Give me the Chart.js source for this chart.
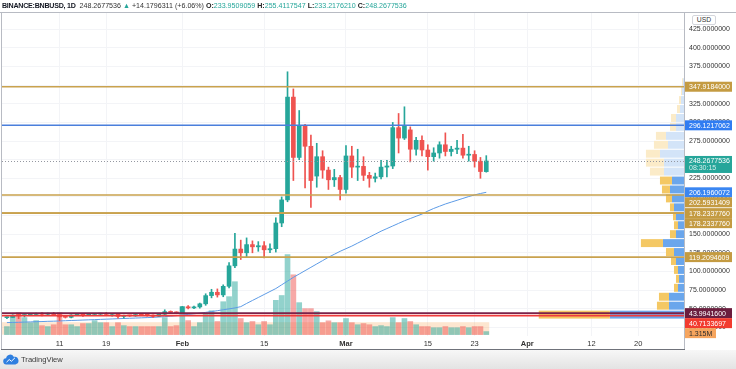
<!DOCTYPE html>
<html>
<head>
<meta charset="utf-8">
<script src="https://cdn.jsdelivr.net/npm/chart.js@4.4.1/dist/chart.umd.min.js"></script>
<style>
  html, body { margin: 0; padding: 0; background: #fff; }
  #wrap { position: relative; width: 736px; height: 369px; overflow: hidden; font-family: 'Liberation Sans', Arial, sans-serif; }
  #footer { position: absolute; left: 0; top: 350px; width: 736px; height: 19px; background: linear-gradient(#f7f7f7, #e3e3e3); }
  #chart { position: absolute; left: 0; top: 0; }
  #legend { position: absolute; left: 2px; top: 0px; font-size: 7.1px; line-height: 12px; white-space: nowrap; color: #333; }
  #legend .up { color: #26a69a; }
  #legend b { font-weight: bold; color: #222; }
  #legend .sym { font-weight: bold; color: #131722; letter-spacing: -0.25px; }
  #usd { position: absolute; left: 692px; top: 15px; width: 22px; height: 8px; border: 1px solid #d4d6dc; border-radius: 2px; font-size: 6.8px; line-height: 8px; text-align: center; color: #333; background: #fff; }
  #logo { position: absolute; left: 3px; top: 352px; height: 14px; display: flex; align-items: center; }
  #logo span { font-size: 7.6px; color: #3a3a3a; margin-left: 2px; }
</style>
</head>
<body>
<div id="wrap">
  <div id="footer"></div>
  <canvas id="chart" width="736" height="369"></canvas>
  <div id="legend"><span class="sym">BINANCE:BNBUSD, 1D</span>&nbsp; 248.2677536 <span class="up">&#9650;</span> +14.1796311 (+6.06%) <b>O:</b><span class="up">233.9509059</span> <b>H:</b><span class="up">255.4117547</span> <b>L:</b><span class="up">233.2176210</span> <b>C:</b><span class="up">248.2677536</span></div>
  <div id="usd">USD</div>
  <div id="logo">
    <svg width="16" height="11" viewBox="0 0 36 24"><path d="M8 23a7 7 0 0 1-1-14a9 9 0 0 1 17-3a8 8 0 0 1 4 17z" fill="#2f7fe0"/><polyline points="8,18 14,12 19,16 27,8" fill="none" stroke="#fff" stroke-width="2.2"/></svg>
    <span>TradingView</span>
  </div>
</div>
<script>
// daily candles, day index counted from Jan 1 2021 (first candle = Jan 2)
const firstDay = 1;
const opens = [
  37.9, 38.2, 41.3, 40.8, 41.8, 42.2, 43.4, 42.5, 43.8, 42.0,
  38.9, 38.4, 41.5, 42.8, 41.9, 42.3, 42.6, 43.3, 42.4, 42.9,
  39.6, 40.7, 40.3, 42.0, 41.5, 41.3, 39.7, 42.5, 46.0, 45.0,
  44.3, 52.5, 51.0, 52.3, 56.5, 67.5, 72.0, 68.5, 80.0, 107.5,
  130.0, 125.0, 136.0, 133.0, 134.5, 129.0, 130.5, 165.0, 196.0, 334.0,
  253.0, 296.0, 268.0, 228.0, 254.0, 236.0, 223.0, 226.0, 210.0, 255.0,
  240.0, 241.0, 229.0, 225.0, 227.0, 240.0, 241.5, 293.0, 279.0, 290.0,
  264.0, 276.0, 263.0, 254.0, 259.0, 270.0, 261.0, 264.0, 265.5, 256.0,
  257.0, 248.0, 233.9509059
];
const highs = [
  38.9, 41.9, 42.2, 42.3, 43.0, 44.2, 44.6, 44.0, 44.9, 42.2,
  40.6, 41.9, 43.3, 43.6, 43.4, 43.4, 43.9, 44.7, 43.2, 43.1,
  41.5, 41.3, 42.6, 43.7, 42.4, 41.6, 43.8, 48.5, 47.0, 45.8,
  53.0, 54.0, 53.5, 57.5, 70.0, 76.0, 76.5, 82.0, 112.0, 151.0,
  142.0, 145.0, 141.0, 140.0, 140.0, 137.0, 172.0, 200.0, 368.0, 345.0,
  316.0, 297.5, 283.0, 272.0, 262.0, 240.0, 237.0, 229.0, 269.0, 268.0,
  264.0, 254.0, 233.0, 232.0, 249.0, 249.0, 300.0, 312.0, 321.0, 294.0,
  280.0, 282.0, 270.0, 266.0, 274.0, 286.0, 268.0, 276.0, 284.0, 268.0,
  262.0, 253.0, 255.4117547
];
const lows = [
  36.6, 37.9, 36.5, 38.9, 40.8, 41.2, 40.3, 41.7, 40.6, 33.9,
  37.4, 37.6, 40.7, 39.6, 41.2, 40.7, 41.6, 42.0, 39.8, 37.3,
  37.4, 39.6, 39.7, 41.2, 39.9, 38.3, 39.1, 41.5, 43.5, 43.2,
  43.5, 49.5, 50.0, 50.8, 54.5, 64.5, 65.5, 66.0, 78.0, 105.0,
  116.0, 119.0, 125.0, 127.0, 118.0, 125.0, 126.0, 160.0, 193.5, 222.0,
  250.0, 212.0, 186.0, 213.0, 225.0, 210.0, 214.0, 196.0, 205.0, 226.0,
  222.0, 222.0, 213.0, 220.0, 224.0, 227.0, 238.0, 259.0, 277.0, 247.0,
  256.0, 255.0, 236.0, 248.0, 252.0, 255.0, 255.0, 258.0, 252.0, 248.0,
  240.0, 225.0, 233.217621
];
const closes = [
  38.2, 41.3, 40.8, 41.8, 42.2, 43.4, 42.5, 43.8, 42.0, 38.9,
  38.4, 41.5, 42.8, 41.9, 42.3, 42.6, 43.3, 42.4, 42.9, 39.6,
  40.7, 40.3, 42.0, 41.5, 41.3, 39.7, 42.5, 46.0, 45.0, 44.3,
  52.5, 51.0, 52.3, 56.5, 67.5, 72.0, 68.5, 80.0, 107.5, 130.0,
  125.0, 136.0, 133.0, 134.5, 129.0, 130.5, 165.0, 196.0, 334.0, 253.0,
  296.0, 268.0, 222.0, 254.0, 236.0, 223.0, 226.0, 210.0, 255.0, 240.0,
  241.0, 229.0, 225.0, 227.0, 240.0, 241.5, 293.0, 279.0, 296.0, 264.0,
  276.0, 263.0, 254.0, 259.0, 270.0, 261.0, 264.0, 265.5, 256.0, 257.0,
  248.0, 234.0881225, 248.2677536
];
// volume, millions
const volumes = [
  3.5, 8.3, 9.6, 7.4, 5.2, 6.1, 3.9, 3.5, 4.3, 9.6,
  4.3, 4.3, 3.5, 4.8, 4.8, 6.1, 5.2, 5.2, 3.5, 5.2,
  3.9, 3.5, 3.5, 3.5, 3.5, 3.5, 3.5, 7.4, 3.5, 3.9,
  12.2, 6.1, 3.5, 5.2, 9.1, 10.4, 5.7, 14.3, 16.5, 23.0,
  7.0, 5.2, 5.7, 4.3, 5.7, 4.3, 14.9, 17.0, 34.8, 26.0,
  13.9, 11.3, 11.3, 10.0, 5.2, 6.0, 5.2, 5.2, 7.0, 5.2,
  4.3, 4.8, 4.3, 3.5, 3.9, 3.5, 7.4, 5.2, 7.0, 5.7,
  4.3, 3.5, 3.5, 3.0, 3.0, 3.5, 3.0, 3.0, 3.5, 3.0,
  3.5, 3.5, 1.315
];
// moving average
const movingAvg = [
  31.3, 31.5, 31.7, 32.0, 32.2, 32.5, 32.7, 33.0, 33.2, 33.5,
  33.8, 34.1, 34.4, 34.7, 35.0, 35.3, 35.6, 35.9, 36.2, 36.5,
  36.8, 37.1, 37.4, 37.7, 38.0, 38.3, 38.8, 39.3, 39.9, 40.6,
  41.5, 42.3, 43.1, 44.0, 45.0, 46.1, 47.3, 48.5, 49.7, 51.0,
  52.7, 57.0, 61.0, 65.0, 69.0, 73.0, 77.0, 82.0, 87.0, 92.0,
  96.5, 101.0, 105.5, 110.0, 114.5, 119.0, 123.0, 127.0, 130.5, 134.0,
  138.0, 142.0, 146.0, 150.0, 154.0, 157.5, 161.0, 164.5, 168.0, 171.0,
  174.0, 177.0, 181.0, 184.5, 187.5, 190.5, 193.0, 195.5, 198.0, 200.5,
  202.7, 204.6, 206.1960072
];
const volumeBandLevel = 5.4;

// visible range volume profile (rows of 12 price units)
const profileStep = 12;
const profilePrices = [36, 48, 60, 72, 84, 96, 108, 120, 132, 144, 156, 168, 180, 192, 204, 216, 228, 240, 252, 264, 276, 288, 300, 312, 324, 336, 348];
const profileDown = [71, 12, 10, 4, 3, 4, 5, 8, 22, 6, 4, 3, 4, 6, 8, 12, 14, 18, 14, 14, 10, 6, 5, 3, 2, 1, 1];
const profileUp = [74, 15, 15, 6, 5, 6, 8, 10, 21, 8, 6, 8, 10, 12, 14, 12, 20, 20, 24, 16, 18, 8, 8, 4, 3, 2, 1];
const valueArea = [36, 228];

// horizontal levels
const levelPrices = [347.9184, 296.1217062, 202.5931409, 178.233776, 178.233776, 119.2094609, 43.99416, 40.7133697];
const lastPrice = 248.2677536;
const countdown = '08:30:15';

// axes
const priceTicks = [25, 50, 75, 100, 125, 150, 175, 200, 225, 250, 275, 300, 325, 350, 375, 400, 425];
const tickDays = [10, 18, 31, 45, 59, 73, 81, 90, 101, 109];
const tickLabels = ['11', '19', 'Feb', '15', 'Mar', '15', '23', 'Apr', '12', '20'];
const monthLabels = ['Feb', 'Mar', 'Apr'];

// styles
const UP = '#26a69a', DOWN = '#ef5350';
const GOLD_LINE = '#c9a24e', GOLD_TAG = '#c49b42';
const levelLine = [GOLD_LINE, '#4a7fdc', GOLD_LINE, GOLD_LINE, GOLD_LINE, GOLD_LINE, '#7a2149', '#ef3b3b'];
const levelTag = [GOLD_TAG, '#2f7cf2', GOLD_TAG, GOLD_TAG, GOLD_TAG, GOLD_TAG, '#6b1d3e', '#f23b2f'];
const FONT = "'Liberation Sans', Arial, sans-serif";

const dayIndex = opens.map((_, i) => firstDay + i);
const isUp = opens.map((o, i) => closes[i] >= o);
const candleColors = isUp.map(u => u ? UP : DOWN);
const volColors = isUp.map(u => u ? 'rgba(38,166,154,0.5)' : 'rgba(239,83,80,0.5)');

const overlay = {
    id: 'overlay',
    beforeDatasetsDraw(chart) {
        const { ctx, chartArea: a, scales: { x, y, yVol } } = chart;
        ctx.save();
        ctx.beginPath();
        ctx.rect(a.left, a.top, a.right - a.left, a.bottom - a.top);
        ctx.clip();

        // shaded volume band
        const bandRight = x.getPixelForValue(dayIndex[dayIndex.length - 1] + 0.5);
        const bandTop = yVol.getPixelForValue(volumeBandLevel);
        const bandBottom = yVol.getPixelForValue(0);
        ctx.fillStyle = 'rgba(245,150,60,0.24)';
        ctx.fillRect(a.left, bandTop, bandRight - a.left, bandBottom - bandTop);

        // volume profile, anchored to the price axis
        const totals = profileUp.map((u, i) => u + profileDown[i]);
        const maxTotal = Math.max(...totals);
        const fullWidth = (a.right - a.left) * 0.213;
        profilePrices.forEach((lo, i) => {
            const top = y.getPixelForValue(lo + profileStep) + 0.5;
            const bottom = y.getPixelForValue(lo) - 0.5;
            const wUp = profileUp[i] / maxTotal * fullWidth;
            const wDown = profileDown[i] / maxTotal * fullWidth;
            const inside = lo >= valueArea[0] && lo < valueArea[1];
            ctx.fillStyle = inside ? '#6aa6ec' : '#d3e4f8';
            ctx.fillRect(a.right - wUp, top, wUp, bottom - top);
            ctx.fillStyle = inside ? '#f4c864' : '#fbebc8';
            ctx.fillRect(a.right - wUp - wDown, top, wDown, bottom - top);
        });
        ctx.restore();
    },
    afterDatasetsDraw(chart) {
        const { ctx, chartArea: a, scales: { y } } = chart;
        ctx.save();
        // last price dotted line
        const py = Math.round(y.getPixelForValue(lastPrice)) + 0.5;
        ctx.strokeStyle = '#9598a1';
        ctx.lineWidth = 1;
        ctx.setLineDash([1, 2]);
        ctx.beginPath();
        ctx.moveTo(a.left, py);
        ctx.lineTo(a.right, py);
        ctx.stroke();
        ctx.setLineDash([]);

        // horizontal levels
        levelPrices.forEach((p, i) => {
            const ly = y.getPixelForValue(p);
            ctx.strokeStyle = levelLine[i];
            ctx.lineWidth = 1.6;
            ctx.beginPath();
            ctx.moveTo(a.left, ly);
            ctx.lineTo(a.right, ly);
            ctx.stroke();
        });
        ctx.restore();
    },
    afterDraw(chart) {
        const { ctx, chartArea: a, scales: { y, yVol } } = chart;
        ctx.save();

        // frame
        ctx.strokeStyle = '#b8bbc3';
        ctx.lineWidth = 1;
        ctx.beginPath();
        ctx.moveTo(0, a.top - 0.5); ctx.lineTo(736, a.top - 0.5);
        ctx.moveTo(a.left - 0.5, a.top); ctx.lineTo(a.left - 0.5, 350);
        ctx.moveTo(a.right + 0.5, a.top); ctx.lineTo(a.right + 0.5, 350);
        ctx.stroke();
        ctx.strokeStyle = '#6f727a';
        ctx.beginPath();
        ctx.moveTo(a.left - 1, 349.5); ctx.lineTo(a.right + 1, 349.5);
        ctx.stroke();

        // tags on the price axis, stacked so they never overlap
        const tags = levelPrices.map((p, i) => ({
            c: y.getPixelForValue(p), h: 10, bg: levelTag[i], fg: '#fff', text: [p.toFixed(7)], w: 47
        }));
        tags.push({ c: y.getPixelForValue(movingAvg[movingAvg.length - 1]), h: 10, bg: '#3a86f2', fg: '#fff',
            text: [movingAvg[movingAvg.length - 1].toFixed(7)], w: 47 });
        tags.push({ c: y.getPixelForValue(lastPrice), h: 17, bg: '#26a69a', fg: '#fff',
            text: [lastPrice.toFixed(7), countdown], w: 47 });
        const lastVol = volumes[volumes.length - 1];
        tags.push({ c: yVol.getPixelForValue(lastVol), h: 10, bg: '#f6a55e', fg: '#2b2b2b',
            text: [lastVol.toFixed(3) + 'M'], w: 31 });
        tags.forEach(t => { t.top = t.c - 5; });
        tags.sort((p, q) => p.top - q.top);
        let prevBottom = -Infinity;
        tags.forEach(t => {
            if (t.top < prevBottom) t.top = prevBottom;
            prevBottom = t.top + t.h;
            const left = a.right + 1;
            ctx.fillStyle = t.bg;
            ctx.fillRect(left, t.top, t.w, t.h);
            ctx.fillStyle = t.fg;
            ctx.font = '7px ' + FONT;
            ctx.textBaseline = 'middle';
            ctx.textAlign = 'left';
            ctx.fillText(t.text[0], left + 4, t.top + 5.5);
            if (t.text[1]) {
                ctx.fillStyle = 'rgba(255,255,255,0.8)';
                ctx.fillText(t.text[1], left + 4, t.top + 12.5);
            }
        });
        ctx.restore();
    }
};

const ctx = document.getElementById('chart').getContext('2d');
Chart.defaults.font.family = FONT;
new Chart(ctx, {
    type: 'bar',
    data: {
        datasets: [
            {
                type: 'bar', label: 'bodies', yAxisID: 'y', order: 1, grouped: false,
                data: dayIndex.map((d, i) => ({ x: d, y: [opens[i], closes[i]] })),
                backgroundColor: candleColors, barThickness: 4, minBarLength: 1, borderWidth: 0
            },
            {
                type: 'bar', label: 'wicks', yAxisID: 'y', order: 2, grouped: false,
                data: dayIndex.map((d, i) => ({ x: d, y: [lows[i], highs[i]] })),
                backgroundColor: candleColors, barThickness: 1, borderWidth: 0
            },
            {
                type: 'line', label: 'MA', yAxisID: 'y', order: 3,
                data: dayIndex.map((d, i) => ({ x: d, y: movingAvg[i] })),
                borderColor: '#5d9be6', borderWidth: 1, pointRadius: 0, tension: 0
            },
            {
                type: 'bar', label: 'volume', yAxisID: 'yVol', order: 5, grouped: false,
                data: dayIndex.map((d, i) => ({ x: d, y: volumes[i] })),
                backgroundColor: volColors, barThickness: 5, borderWidth: 0
            }
        ]
    },
    options: {
        responsive: false,
        animation: false,
        devicePixelRatio: 1,
        layout: { padding: { left: 2, top: 13, right: 0, bottom: 19 } },
        plugins: { legend: { display: false }, tooltip: { enabled: false } },
        scales: {
            x: {
                type: 'linear', min: 0.16, max: 116.82, offset: false,
                grid: { color: '#f3f4f7', drawTicks: false, offset: false },
                border: { display: false },
                afterBuildTicks: s => { s.ticks = tickDays.map(v => ({ value: v })); },
                afterFit: s => { s.height = 14; },
                ticks: {
                    autoSkip: false, maxRotation: 0, padding: 3, color: '#333',
                    font: c => ({ size: 7.5, weight: monthLabels.includes(tickLabels[tickDays.indexOf(c.tick && c.tick.value)]) ? 'bold' : 'normal' }),
                    callback: v => tickLabels[tickDays.indexOf(v)]
                }
            },
            y: {
                position: 'right', min: 13.3, max: 446.9,
                grid: { color: '#f3f4f7', drawTicks: false },
                border: { display: false },
                afterBuildTicks: s => { s.ticks = priceTicks.map(v => ({ value: v })); },
                afterFit: s => { s.width = 52; },
                ticks: { padding: 5, color: '#333', font: { size: 7 }, callback: v => v.toFixed(7) }
            },
            yVol: { display: false, min: -0.6, max: 139.8 }
        }
    },
    plugins: [overlay]
});
</script>
</body>
</html>
